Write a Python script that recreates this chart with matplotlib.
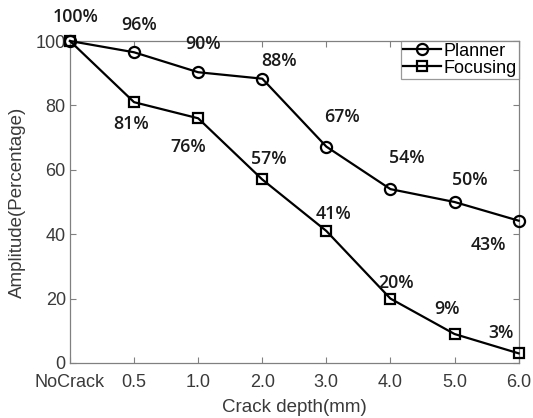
import numpy as np
import matplotlib
matplotlib.use("Agg")
import matplotlib.pyplot as plt

# crack depth categories and measured amplitudes (percent of uncracked)
depths = ["NoCrack", "0.5", "1.0", "2.0", "3.0", "4.0", "5.0", "6.0"]
planner = [100, 96.5, 90.3, 88.3, 67.2, 54, 50, 44.2]
focusing = [100, 81, 76, 57, 41, 20, 9, 3]
planner_labels = ["100%", "96%", "90%", "88%", "67%", "54%", "50%", "43%"]
focusing_labels = ["", "81%", "76%", "57%", "41%", "20%", "9%", "3%"]

# label offsets in pixels (dx right, dy down) relative to each point
planner_offsets = [(6, -24), (5, -27), (5, -28), (17, -18), (16, -30),
                   (16, -31), (15, -22), (-30, 24)]
focusing_offsets = [(0, 0), (-3, 22), (-10, 29), (7, -20), (7, -17),
                    (6, -16), (-8, -25), (-18, -20)]

DPI = 100
fig = plt.figure(figsize=(5.33, 4.18), dpi=DPI)
ax = fig.add_axes([0.1313, 0.1316, 0.8417, 0.7703])

x = np.arange(len(depths))
ax.plot(x, planner, color="black", lw=1.6, marker="o", ms=8, mfc="none",
        mew=1.6, label="Planner", clip_on=False, zorder=3)
ax.plot(x, focusing, color="black", lw=1.6, marker="s", ms=6.5, mfc="none",
        mew=1.6, label="Focusing", clip_on=False, zorder=3)

px2pt = 72.0 / DPI
ann_font = dict(family=["Open Sans", "DejaVu Sans"], fontsize=12.8,
                fontweight="semibold", color="#1a1a1a", ha="center", va="center")
for xi, yi, txt, off in zip(x, planner, planner_labels, planner_offsets):
    ax.annotate(txt, (xi, yi), xytext=(off[0] * px2pt, -off[1] * px2pt),
                textcoords="offset points", annotation_clip=False, **ann_font)
for xi, yi, txt, off in zip(x, focusing, focusing_labels, focusing_offsets):
    if txt:
        ax.annotate(txt, (xi, yi), xytext=(off[0] * px2pt, -off[1] * px2pt),
                    textcoords="offset points", annotation_clip=False, **ann_font)

ax.set_xlim(0, 7)
ax.set_ylim(0, 100)
ax.set_xticks(x)
ax.set_xticklabels(depths)
ax.set_yticks([0, 20, 40, 60, 80, 100])

tick_font = "Liberation Sans"
for lab in ax.get_xticklabels() + ax.get_yticklabels():
    lab.set_fontfamily(tick_font)
    lab.set_fontsize(13)
    lab.set_color("#3a3a3a")

ax.tick_params(direction="in", length=4, width=0.8, color="#808080",
               top=True, right=True)
ax.tick_params(axis="x", pad=8)
ax.tick_params(axis="y", pad=3)
for sp in ax.spines.values():
    sp.set_color("#808080")
    sp.set_linewidth(0.9)

ax.set_xlabel("Crack depth(mm)", fontfamily=tick_font, fontsize=13.5,
              color="#3a3a3a", labelpad=6)
ax.set_ylabel("Amplitude(Percentage)", fontfamily=tick_font, fontsize=13.5,
              color="#3a3a3a", labelpad=7)

leg = ax.legend(loc="upper right", prop={"family": tick_font, "size": 13},
                frameon=True, fancybox=False, borderaxespad=0,
                handlelength=2.1, handletextpad=0.15, borderpad=0.1,
                labelspacing=0.0)
leg.get_frame().set_edgecolor("#808080")
leg.get_frame().set_linewidth(0.9)

fig.savefig("out.png", dpi=DPI)
